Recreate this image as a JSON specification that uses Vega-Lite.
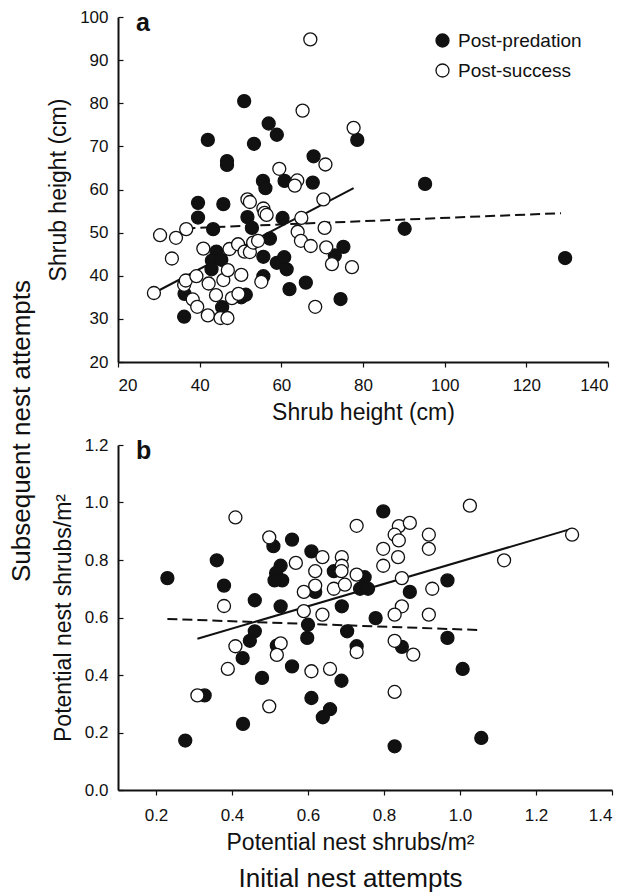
{
  "$schema": "https://vega.github.io/schema/vega-lite/v6.json",
  "background": "white",
  "padding": {"top": 8, "left": 8, "right": 10, "bottom": 2},
  "config": {
    "view": {"stroke": null},
    "font": "Liberation Sans",
    "axis": {
      "grid": false,
      "domainColor": "#111111",
      "domainWidth": 2,
      "tickColor": "#111111",
      "tickWidth": 1.2,
      "labelFont": "Liberation Sans",
      "labelFontSize": 17,
      "labelColor": "#111111",
      "titleFont": "Liberation Sans",
      "titleFontSize": 23,
      "titleFontWeight": "normal",
      "titleColor": "#111111"
    },
    "axisX": {"tickSize": 5, "labelPadding": 10, "titlePadding": 8},
    "axisY": {"tickSize": -5, "labelPadding": 15, "titlePadding": 9},
    "title": {"font": "Liberation Sans", "fontWeight": "normal", "color": "#111111"},
    "legend": {"labelFont": "Liberation Sans"}
  },
  "datasets": {
    "pointsA": [
      {"x": 50.9, "y": 80.5, "group": "Post-predation"},
      {"x": 42.0, "y": 71.5, "group": "Post-predation"},
      {"x": 56.9, "y": 75.3, "group": "Post-predation"},
      {"x": 58.9, "y": 72.7, "group": "Post-predation"},
      {"x": 53.3, "y": 70.6, "group": "Post-predation"},
      {"x": 46.7, "y": 66.6, "group": "Post-predation"},
      {"x": 46.7, "y": 65.7, "group": "Post-predation"},
      {"x": 67.9, "y": 67.7, "group": "Post-predation"},
      {"x": 55.5, "y": 62.0, "group": "Post-predation"},
      {"x": 56.1, "y": 60.3, "group": "Post-predation"},
      {"x": 60.8, "y": 62.0, "group": "Post-predation"},
      {"x": 67.7, "y": 61.6, "group": "Post-predation"},
      {"x": 78.6, "y": 71.5, "group": "Post-predation"},
      {"x": 95.2, "y": 61.3, "group": "Post-predation"},
      {"x": 36.2, "y": 30.5, "group": "Post-predation"},
      {"x": 36.3, "y": 35.8, "group": "Post-predation"},
      {"x": 39.6, "y": 56.9, "group": "Post-predation"},
      {"x": 39.6, "y": 53.5, "group": "Post-predation"},
      {"x": 45.8, "y": 56.6, "group": "Post-predation"},
      {"x": 43.3, "y": 50.8, "group": "Post-predation"},
      {"x": 44.1, "y": 45.6, "group": "Post-predation"},
      {"x": 43.0, "y": 43.5, "group": "Post-predation"},
      {"x": 45.3, "y": 43.7, "group": "Post-predation"},
      {"x": 42.9, "y": 41.5, "group": "Post-predation"},
      {"x": 45.5, "y": 32.7, "group": "Post-predation"},
      {"x": 50.2, "y": 35.0, "group": "Post-predation"},
      {"x": 51.3, "y": 35.6, "group": "Post-predation"},
      {"x": 51.7, "y": 53.6, "group": "Post-predation"},
      {"x": 52.8, "y": 51.1, "group": "Post-predation"},
      {"x": 57.2, "y": 48.6, "group": "Post-predation"},
      {"x": 55.6, "y": 44.4, "group": "Post-predation"},
      {"x": 55.6, "y": 39.9, "group": "Post-predation"},
      {"x": 60.3, "y": 53.4, "group": "Post-predation"},
      {"x": 58.9, "y": 43.0, "group": "Post-predation"},
      {"x": 60.7, "y": 44.3, "group": "Post-predation"},
      {"x": 61.3, "y": 41.5, "group": "Post-predation"},
      {"x": 62.0, "y": 36.9, "group": "Post-predation"},
      {"x": 66.0, "y": 38.4, "group": "Post-predation"},
      {"x": 73.1, "y": 44.7, "group": "Post-predation"},
      {"x": 75.2, "y": 46.7, "group": "Post-predation"},
      {"x": 74.5, "y": 34.6, "group": "Post-predation"},
      {"x": 90.2, "y": 50.9, "group": "Post-predation"},
      {"x": 129.5, "y": 44.1, "group": "Post-predation"},
      {"x": 67.1, "y": 94.8, "group": "Post-success"},
      {"x": 65.2, "y": 78.3, "group": "Post-success"},
      {"x": 59.5, "y": 64.8, "group": "Post-success"},
      {"x": 70.8, "y": 65.8, "group": "Post-success"},
      {"x": 63.9, "y": 62.1, "group": "Post-success"},
      {"x": 63.3, "y": 60.9, "group": "Post-success"},
      {"x": 77.7, "y": 74.3, "group": "Post-success"},
      {"x": 28.8, "y": 36.0, "group": "Post-success"},
      {"x": 30.3, "y": 49.4, "group": "Post-success"},
      {"x": 33.2, "y": 44.0, "group": "Post-success"},
      {"x": 34.2, "y": 48.8, "group": "Post-success"},
      {"x": 36.7, "y": 50.8, "group": "Post-success"},
      {"x": 36.2, "y": 37.9, "group": "Post-success"},
      {"x": 36.6, "y": 38.9, "group": "Post-success"},
      {"x": 38.3, "y": 34.5, "group": "Post-success"},
      {"x": 39.4, "y": 32.8, "group": "Post-success"},
      {"x": 39.2, "y": 39.9, "group": "Post-success"},
      {"x": 40.9, "y": 46.3, "group": "Post-success"},
      {"x": 42.2, "y": 38.2, "group": "Post-success"},
      {"x": 42.0, "y": 30.8, "group": "Post-success"},
      {"x": 44.0, "y": 35.5, "group": "Post-success"},
      {"x": 45.1, "y": 30.2, "group": "Post-success"},
      {"x": 46.8, "y": 30.2, "group": "Post-success"},
      {"x": 45.8, "y": 39.0, "group": "Post-success"},
      {"x": 46.9, "y": 41.3, "group": "Post-success"},
      {"x": 47.3, "y": 46.2, "group": "Post-success"},
      {"x": 49.4, "y": 47.3, "group": "Post-success"},
      {"x": 50.2, "y": 40.2, "group": "Post-success"},
      {"x": 47.9, "y": 34.8, "group": "Post-success"},
      {"x": 49.5, "y": 35.8, "group": "Post-success"},
      {"x": 51.0, "y": 45.6, "group": "Post-success"},
      {"x": 52.3, "y": 45.5, "group": "Post-success"},
      {"x": 53.1, "y": 47.7, "group": "Post-success"},
      {"x": 54.3, "y": 48.1, "group": "Post-success"},
      {"x": 51.7, "y": 57.7, "group": "Post-success"},
      {"x": 52.3, "y": 57.1, "group": "Post-success"},
      {"x": 55.6, "y": 55.6, "group": "Post-success"},
      {"x": 55.9, "y": 54.6, "group": "Post-success"},
      {"x": 56.4, "y": 54.1, "group": "Post-success"},
      {"x": 55.1, "y": 38.6, "group": "Post-success"},
      {"x": 68.3, "y": 32.8, "group": "Post-success"},
      {"x": 64.0, "y": 50.2, "group": "Post-success"},
      {"x": 64.8, "y": 48.1, "group": "Post-success"},
      {"x": 64.9, "y": 53.4, "group": "Post-success"},
      {"x": 67.2, "y": 46.9, "group": "Post-success"},
      {"x": 70.3, "y": 57.7, "group": "Post-success"},
      {"x": 70.6, "y": 51.1, "group": "Post-success"},
      {"x": 71.0, "y": 46.6, "group": "Post-success"},
      {"x": 72.4, "y": 42.7, "group": "Post-success"},
      {"x": 77.3, "y": 42.0, "group": "Post-success"}
    ],
    "linesA": [
      {"x": 36.5, "y": 51.0, "fit": "predation"},
      {"x": 128.5, "y": 54.5, "fit": "predation"},
      {"x": 28.8, "y": 36.0, "fit": "success"},
      {"x": 77.7, "y": 60.3, "fit": "success"}
    ],
    "pointsB": [
      {"x": 0.230, "y": 0.737, "group": "Post-predation"},
      {"x": 0.360, "y": 0.799, "group": "Post-predation"},
      {"x": 0.379, "y": 0.711, "group": "Post-predation"},
      {"x": 0.460, "y": 0.660, "group": "Post-predation"},
      {"x": 0.509, "y": 0.848, "group": "Post-predation"},
      {"x": 0.558, "y": 0.871, "group": "Post-predation"},
      {"x": 0.528, "y": 0.780, "group": "Post-predation"},
      {"x": 0.516, "y": 0.755, "group": "Post-predation"},
      {"x": 0.532, "y": 0.729, "group": "Post-predation"},
      {"x": 0.512, "y": 0.729, "group": "Post-predation"},
      {"x": 0.528, "y": 0.639, "group": "Post-predation"},
      {"x": 0.609, "y": 0.830, "group": "Post-predation"},
      {"x": 0.619, "y": 0.689, "group": "Post-predation"},
      {"x": 0.668, "y": 0.761, "group": "Post-predation"},
      {"x": 0.689, "y": 0.639, "group": "Post-predation"},
      {"x": 0.460, "y": 0.552, "group": "Post-predation"},
      {"x": 0.600, "y": 0.575, "group": "Post-predation"},
      {"x": 0.703, "y": 0.552, "group": "Post-predation"},
      {"x": 0.277, "y": 0.172, "group": "Post-predation"},
      {"x": 0.328, "y": 0.329, "group": "Post-predation"},
      {"x": 0.428, "y": 0.459, "group": "Post-predation"},
      {"x": 0.429, "y": 0.230, "group": "Post-predation"},
      {"x": 0.447, "y": 0.519, "group": "Post-predation"},
      {"x": 0.479, "y": 0.390, "group": "Post-predation"},
      {"x": 0.518, "y": 0.502, "group": "Post-predation"},
      {"x": 0.558, "y": 0.430, "group": "Post-predation"},
      {"x": 0.598, "y": 0.529, "group": "Post-predation"},
      {"x": 0.609, "y": 0.320, "group": "Post-predation"},
      {"x": 0.639, "y": 0.253, "group": "Post-predation"},
      {"x": 0.658, "y": 0.281, "group": "Post-predation"},
      {"x": 0.688, "y": 0.380, "group": "Post-predation"},
      {"x": 0.798, "y": 0.969, "group": "Post-predation"},
      {"x": 0.749, "y": 0.740, "group": "Post-predation"},
      {"x": 0.737, "y": 0.700, "group": "Post-predation"},
      {"x": 0.758, "y": 0.700, "group": "Post-predation"},
      {"x": 0.868, "y": 0.689, "group": "Post-predation"},
      {"x": 0.967, "y": 0.729, "group": "Post-predation"},
      {"x": 0.778, "y": 0.598, "group": "Post-predation"},
      {"x": 0.728, "y": 0.500, "group": "Post-predation"},
      {"x": 0.847, "y": 0.498, "group": "Post-predation"},
      {"x": 0.967, "y": 0.529, "group": "Post-predation"},
      {"x": 1.007, "y": 0.421, "group": "Post-predation"},
      {"x": 0.828, "y": 0.152, "group": "Post-predation"},
      {"x": 1.056, "y": 0.181, "group": "Post-predation"},
      {"x": 0.409, "y": 0.948, "group": "Post-success"},
      {"x": 0.379, "y": 0.640, "group": "Post-success"},
      {"x": 0.498, "y": 0.879, "group": "Post-success"},
      {"x": 0.568, "y": 0.790, "group": "Post-success"},
      {"x": 0.619, "y": 0.761, "group": "Post-success"},
      {"x": 0.638, "y": 0.810, "group": "Post-success"},
      {"x": 0.619, "y": 0.711, "group": "Post-success"},
      {"x": 0.589, "y": 0.689, "group": "Post-success"},
      {"x": 0.589, "y": 0.622, "group": "Post-success"},
      {"x": 0.638, "y": 0.610, "group": "Post-success"},
      {"x": 0.668, "y": 0.700, "group": "Post-success"},
      {"x": 0.689, "y": 0.810, "group": "Post-success"},
      {"x": 0.689, "y": 0.780, "group": "Post-success"},
      {"x": 0.697, "y": 0.714, "group": "Post-success"},
      {"x": 0.309, "y": 0.329, "group": "Post-success"},
      {"x": 0.389, "y": 0.421, "group": "Post-success"},
      {"x": 0.409, "y": 0.500, "group": "Post-success"},
      {"x": 0.498, "y": 0.291, "group": "Post-success"},
      {"x": 0.528, "y": 0.510, "group": "Post-success"},
      {"x": 0.518, "y": 0.470, "group": "Post-success"},
      {"x": 0.609, "y": 0.413, "group": "Post-success"},
      {"x": 0.658, "y": 0.421, "group": "Post-success"},
      {"x": 1.026, "y": 0.989, "group": "Post-success"},
      {"x": 0.728, "y": 0.919, "group": "Post-success"},
      {"x": 0.839, "y": 0.918, "group": "Post-success"},
      {"x": 0.868, "y": 0.929, "group": "Post-success"},
      {"x": 0.828, "y": 0.888, "group": "Post-success"},
      {"x": 0.839, "y": 0.868, "group": "Post-success"},
      {"x": 0.918, "y": 0.888, "group": "Post-success"},
      {"x": 0.918, "y": 0.839, "group": "Post-success"},
      {"x": 0.798, "y": 0.839, "group": "Post-success"},
      {"x": 0.798, "y": 0.780, "group": "Post-success"},
      {"x": 0.837, "y": 0.810, "group": "Post-success"},
      {"x": 0.688, "y": 0.761, "group": "Post-success"},
      {"x": 0.728, "y": 0.749, "group": "Post-success"},
      {"x": 0.847, "y": 0.737, "group": "Post-success"},
      {"x": 0.927, "y": 0.700, "group": "Post-success"},
      {"x": 1.116, "y": 0.799, "group": "Post-success"},
      {"x": 1.295, "y": 0.888, "group": "Post-success"},
      {"x": 0.847, "y": 0.639, "group": "Post-success"},
      {"x": 0.828, "y": 0.610, "group": "Post-success"},
      {"x": 0.918, "y": 0.610, "group": "Post-success"},
      {"x": 0.728, "y": 0.480, "group": "Post-success"},
      {"x": 0.828, "y": 0.519, "group": "Post-success"},
      {"x": 0.877, "y": 0.471, "group": "Post-success"},
      {"x": 0.828, "y": 0.341, "group": "Post-success"}
    ],
    "linesB": [
      {"x": 0.230, "y": 0.595, "fit": "predation"},
      {"x": 1.058, "y": 0.556, "fit": "predation"},
      {"x": 0.309, "y": 0.526, "fit": "success"},
      {"x": 1.295, "y": 0.909, "fit": "success"}
    ]
  },
  "title": {"text": "Initial nest attempts", "orient": "bottom", "fontSize": 26, "anchor": "middle", "offset": 12, "dx": 40},
  "vconcat": [
    {
      "title": {"text": "Subsequent nest attempts", "orient": "left", "fontSize": 26, "anchor": "middle", "offset": 13},
      "spacing": 12,
      "resolve": {"scale": {"fill": "independent"}, "legend": {"fill": "independent"}},
      "vconcat": [
        {
          "width": 490,
          "height": 345,
          "title": {"text": "a", "anchor": "start", "frame": "group", "fontSize": 25, "fontWeight": "bold", "offset": -28, "dx": 18},
          "encoding": {
            "x": {"field": "x", "type": "quantitative", "scale": {"domain": [20, 140], "nice": false, "zero": false},
                  "axis": {"title": "Shrub height (cm)", "values": [20, 40, 60, 80, 100, 120, 140]}},
            "y": {"field": "y", "type": "quantitative", "scale": {"domain": [20, 100], "nice": false, "zero": false},
                  "axis": {"title": "Shrub height (cm)", "values": [20, 30, 40, 50, 60, 70, 80, 90, 100]}}
          },
          "layer": [
            {
              "data": {"name": "linesA"},
              "transform": [{"filter": "datum.fit === 'predation'"}],
              "mark": {"type": "line", "color": "#111111", "strokeWidth": 2, "strokeDash": [10, 5]},
              "encoding": {}
            },
            {
              "data": {"name": "linesA"},
              "transform": [{"filter": "datum.fit === 'success'"}],
              "mark": {"type": "line", "color": "#111111", "strokeWidth": 2},
              "encoding": {}
            },
            {
              "data": {"name": "pointsA"},
              "mark": {"type": "circle", "size": 169, "stroke": "#111111", "strokeWidth": 1.3, "opacity": 1},
              "encoding": {
                "fill": {"field": "group", "type": "nominal", "scale": {"domain": ["Post-predation", "Post-success"], "range": ["#111111", "#ffffff"]},
                         "legend": {"title": null, "orient": "none", "legendX": 315, "legendY": 14, "symbolType": "circle", "symbolSize": 169,
                                    "symbolStrokeColor": "#111111", "symbolStrokeWidth": 1.3, "labelFontSize": 19, "labelColor": "#111111",
                                    "labelOffset": 6, "rowPadding": 10, "padding": 0}}
              }
            }
          ]
        },
        {
          "width": 494,
          "height": 345,
          "title": {"text": "b", "anchor": "start", "frame": "group", "fontSize": 25, "fontWeight": "bold", "offset": -28, "dx": 18},
          "encoding": {
            "x": {"field": "x", "type": "quantitative", "scale": {"domain": [0.1, 1.4], "nice": false, "zero": false},
                  "axis": {"title": "Potential nest shrubs/m²", "titleX": 232, "titlePadding": 8,
                           "values": [0.2, 0.4, 0.6, 0.8, 1.0, 1.2, 1.4], "format": ".1f", "labelPadding": 12}},
            "y": {"field": "y", "type": "quantitative", "scale": {"domain": [0, 1.2], "nice": false, "zero": false},
                  "axis": {"title": "Potential nest shrubs/m²", "values": [0, 0.2, 0.4, 0.6, 0.8, 1.0, 1.2], "format": ".1f"}}
          },
          "layer": [
            {
              "data": {"name": "linesB"},
              "transform": [{"filter": "datum.fit === 'predation'"}],
              "mark": {"type": "line", "color": "#111111", "strokeWidth": 2, "strokeDash": [10, 5]},
              "encoding": {}
            },
            {
              "data": {"name": "linesB"},
              "transform": [{"filter": "datum.fit === 'success'"}],
              "mark": {"type": "line", "color": "#111111", "strokeWidth": 2},
              "encoding": {}
            },
            {
              "data": {"name": "pointsB"},
              "mark": {"type": "circle", "size": 169, "stroke": "#111111", "strokeWidth": 1.3, "opacity": 1},
              "encoding": {
                "fill": {"field": "group", "type": "nominal", "scale": {"domain": ["Post-predation", "Post-success"], "range": ["#111111", "#ffffff"]}, "legend": null}
              }
            }
          ]
        }
      ]
    }
  ]
}
